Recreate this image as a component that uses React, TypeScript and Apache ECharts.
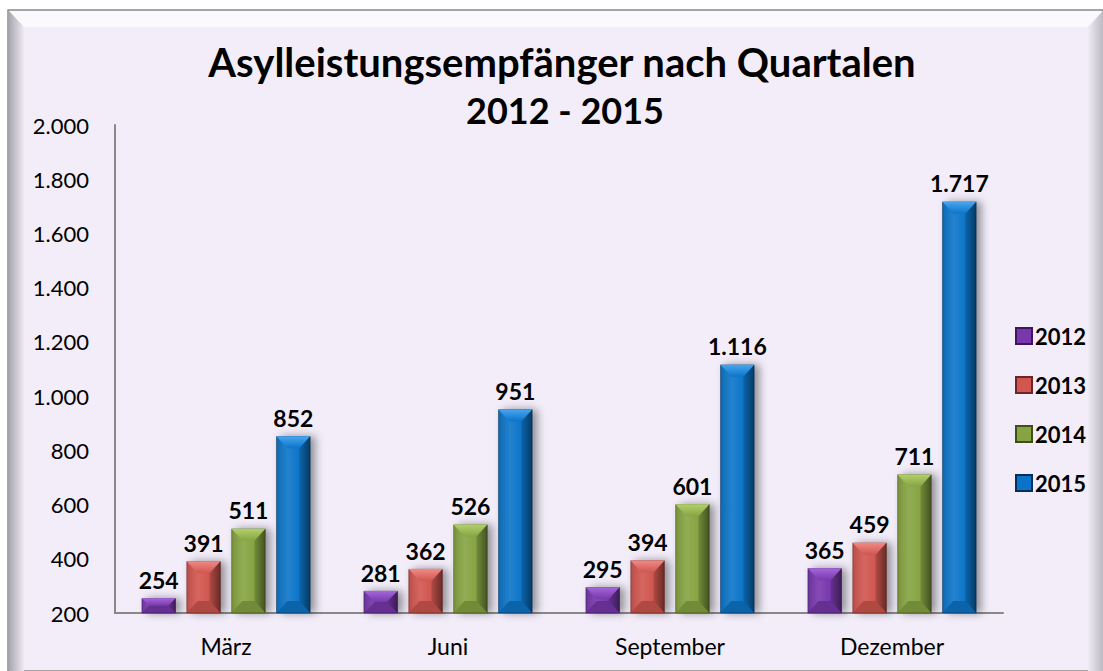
import React, { useEffect, useRef } from "react";
import * as echarts from "echarts";

const categories = ["März", "Juni", "September", "Dezember"];
const years = ["2012", "2013", "2014", "2015"];
const values2012 = [254, 281, 295, 365];
const values2013 = [391, 362, 394, 459];
const values2014 = [511, 526, 601, 711];
const values2015 = [852, 951, 1116, 1717];
const yTicks = [200, 2000, 200]; // min, max, interval

const FONT = "Lato, 'Open Sans', sans-serif";
const BAR_W = 34;
const BAR_GAP = 0.32;

function fmt(v: number): string {
  const s = String(Math.round(v));
  return s.replace(/\B(?=(\d{3})+(?!\d))/g, ".");
}

const palette = [
  { light: "#A466D8", mid: "#7838AC", dark: "#3E1560" },
  { light: "#F08A84", mid: "#D0564F", dark: "#6E2422" },
  { light: "#B2D06A", mid: "#86A443", dark: "#3E5018" },
  { light: "#48A6F0", mid: "#0B74C8", dark: "#052E58" },
];

function barStyle(i: number) {
  const p = palette[i];
  return {
    color: p.mid,
    borderColor: p.dark,
    borderWidth: 0.5,
    shadowColor: "rgba(0,0,0,0.4)",
    shadowBlur: 8,
    shadowOffsetX: 5,
    shadowOffsetY: 0,
  };
}

function bevelSeries(si: number, vals: number[]) {
  const p = palette[si];
  return {
    name: "bevel" + years[si],
    type: "custom",
    z: 5,
    silent: true,
    clip: true,
    data: vals.map((v, ci) => [ci, v]),
    renderItem: (params: any, api: any) => {
      const ci = api.value(0);
      const v = api.value(1);
      const top = api.coord([ci, v]);
      const bot = api.coord([ci, yTicks[0]]);
      const gap = BAR_W * BAR_GAP;
      const total = 4 * BAR_W + 3 * gap;
      const x0 = top[0] - total / 2 + si * (BAR_W + gap);
      const x1 = x0 + BAR_W;
      const y0 = top[1];
      const yb = bot[1];
      const h = yb - y0;
      const b = Math.min(12, h / 2);
      const bs = Math.min(b, 11);
      return {
        type: "group",
        children: [
          {
            type: "polygon",
            shape: { points: [[x0, y0], [x1, y0], [x1 - bs, y0 + b], [x0 + bs, y0 + b]] },
            style: {
              fill: new echarts.graphic.LinearGradient(0, 0, 0, 1, [
                { offset: 0, color: p.light },
                { offset: 1, color: p.mid },
              ]),
            },
          },
          {
            type: "polygon",
            shape: { points: [[x0, yb], [x1, yb], [x1 - bs, yb - b], [x0 + bs, yb - b]] },
            style: { fill: "rgba(0,0,0,0.15)" },
          },
          {
            type: "polygon",
            shape: { points: [[x1, y0], [x1, yb], [x1 - bs, yb - b], [x1 - bs, y0 + b]] },
            style: {
              fill: new echarts.graphic.LinearGradient(0, 0, 1, 0, [
                { offset: 0, color: "rgba(0,0,0,0.15)" },
                { offset: 1, color: "rgba(0,0,0,0.5)" },
              ]),
            },
          },
          {
            type: "polygon",
            shape: { points: [[x0, y0], [x0, yb], [x0 + bs, yb - b], [x0 + bs, y0 + b]] },
            style: {
              fill: new echarts.graphic.LinearGradient(0, 0, 1, 0, [
                { offset: 0, color: "rgba(0,0,0,0.12)" },
                { offset: 1, color: "rgba(255,255,255,0.08)" },
              ]),
            },
          },
          {
            type: "rect",
            shape: { x: x0 + bs, y: y0 + b, width: BAR_W - 2 * bs, height: Math.max(0, h - 2 * b) },
            style: {
              fill: new echarts.graphic.LinearGradient(0, 0, 1, 0, [
                { offset: 0, color: "rgba(255,255,255,0.1)" },
                { offset: 1, color: "rgba(255,255,255,0)" },
              ]),
            },
          },
        ],
      };
    },
  };
}

export default function App() {
  const ref = useRef<HTMLDivElement>(null);
  useEffect(() => {
    if (!ref.current) return;
    const chart = echarts.init(ref.current, null, { renderer: "svg" });
    const allSeries = [values2012, values2013, values2014, values2015];
    const option: any = {
      animation: false,
      backgroundColor: "#ffffff",
      textStyle: { fontFamily: FONT },
      graphic: [
        {
          type: "rect",
          z: -10,
          silent: true,
          shape: { x: 8, y: 10, width: 1095, height: 661 },
          style: { fill: "#F2EDF9", stroke: "#8a8a8a", lineWidth: 1.5 },
        },
        {
          type: "polygon",
          z: -9,
          silent: true,
          shape: { points: [[9, 11], [1102, 11], [1088, 27], [24, 27]] },
          style: { fill: "#FBF9FE" },
        },
        {
          type: "polygon",
          z: -9,
          silent: true,
          shape: { points: [[9, 11], [24, 27], [24, 671], [9, 671]] },
          style: {
            fill: new echarts.graphic.LinearGradient(0, 0, 1, 0, [
              { offset: 0, color: "#A9A6AF" },
              { offset: 1, color: "#EEEAF4" },
            ]),
          },
        },
        {
          type: "polygon",
          z: -9,
          silent: true,
          shape: { points: [[1088, 27], [1103, 11], [1103, 671], [1088, 671]] },
          style: {
            fill: new echarts.graphic.LinearGradient(0, 0, 1, 0, [
              { offset: 0, color: "#F0ECF6" },
              { offset: 1, color: "#BDBAC3" },
            ]),
          },
        },
        {
          type: "text",
          silent: true,
          x: 562,
          y: 62,
          style: {
            text: "Asylleistungsempfänger nach Quartalen",
            fontFamily: FONT,
            fontWeight: "bold",
            fontSize: 40,
            fill: "#000",
            align: "center",
            verticalAlign: "middle",
          },
        },
        {
          type: "text",
          silent: true,
          x: 565,
          y: 110,
          style: {
            text: "2012 - 2015",
            fontFamily: FONT,
            fontWeight: "bold",
            fontSize: 36,
            fill: "#000",
            align: "center",
            verticalAlign: "middle",
          },
        },
      ],
      grid: { left: 115, top: 125, right: 100, bottom: 58, containLabel: false },
      legend: {
        orient: "vertical",
        left: 1010,
        top: 320,
        itemWidth: 16,
        itemHeight: 16,
        itemGap: 27,
        icon: "rect",
        data: years,
        textStyle: {
          fontFamily: FONT,
          fontWeight: "bold",
          fontSize: 22,
          lineHeight: 22,
          color: "#000",
          padding: [0, 0, 0, -2],
        },
      },
      xAxis: {
        type: "category",
        data: categories,
        axisLine: { lineStyle: { color: "#888", width: 2 } },
        axisTick: { show: false },
        axisLabel: { fontFamily: FONT, fontSize: 23, color: "#000", margin: 21 },
      },
      yAxis: {
        type: "value",
        min: yTicks[0],
        max: yTicks[1],
        interval: yTicks[2],
        axisLine: { show: true, lineStyle: { color: "#888", width: 2 } },
        axisTick: { show: false },
        splitLine: { show: false },
        axisLabel: {
          fontFamily: FONT,
          fontSize: 22,
          color: "#000",
          margin: 26,
          formatter: (v: number) => fmt(v),
        },
      },
      series: [
        ...allSeries.map((vals, i) => ({
          name: years[i],
          type: "bar",
          data: vals,
          barWidth: BAR_W,
          barGap: "32%",
          clip: true,
          z: 2,
          itemStyle: barStyle(i),
          label: {
            show: true,
            position: "top",
            distance: 7,
            fontFamily: FONT,
            fontWeight: "bold",
            fontSize: 23,
            color: "#000",
            formatter: (p: any) => fmt(p.value),
          },
        })),
        ...allSeries.map((vals, i) => bevelSeries(i, vals)),
      ],
    };
    chart.setOption(option);
    return () => chart.dispose();
  }, []);
  return (
    <div
      ref={ref}
      style={{ position: "absolute", left: 0, top: 0, width: 1103, height: 671 }}
    />
  );
}
